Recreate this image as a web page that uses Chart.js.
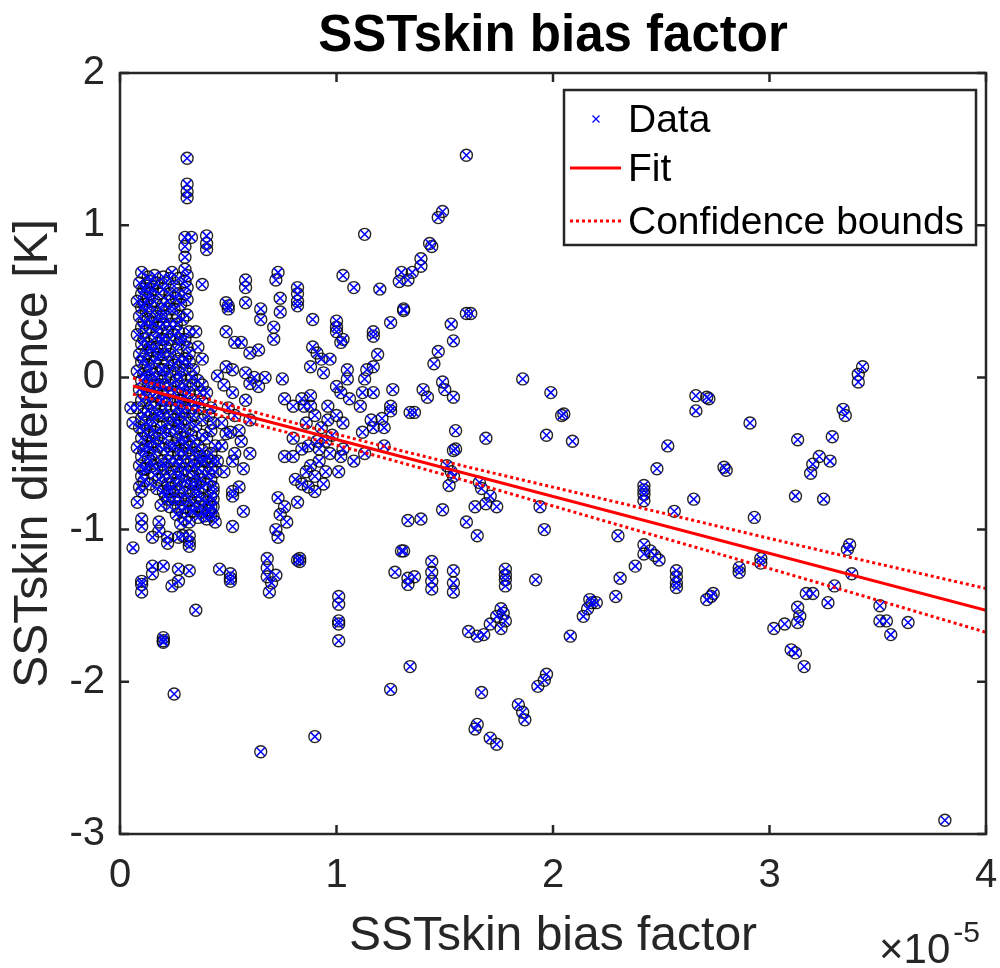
<!DOCTYPE html>
<html>
<head>
<meta charset="utf-8">
<title>SSTskin bias factor</title>
<script src="https://cdn.jsdelivr.net/npm/chart.js@4.4.1/dist/chart.umd.min.js"></script>
<style>
  html, body { margin: 0; padding: 0; background: #fff; }
  #wrap { width: 1000px; height: 968px; }
</style>
</head>
<body>
<div id="wrap"><canvas id="sstChart" width="1000" height="968"></canvas></div>
<script>
// x values are in units of 1e-5 (axis shows x10^-5)
const xTicks = [0, 1, 2, 3, 4];
const yTicks = [-3, -2, -1, 0, 1, 2];
const legendLabels = ['Data', 'Fit', 'Confidence bounds'];

// [bias factor (x1e-5), SSTskin difference K]
const observations = [
  // tall outliers near x=0.3
  [0.31,1.44],[0.31,1.27],[0.31,1.22],[0.31,1.18],[0.30,0.92],[0.33,0.92],[0.30,0.86],[0.30,0.79],
  [0.40,0.93],[0.40,0.88],[0.40,0.84],[0.38,0.61],
  [0.30,0.71],[0.31,0.67],[0.30,0.63],[0.31,0.59],[0.30,0.55],[0.31,0.51],[0.31,0.41],[0.32,0.30],
  [0.30,0.25],[0.31,0.20],[0.32,0.16],[0.30,0.12],
  [0.10,0.69],[0.16,0.67],[0.20,0.66],[0.24,0.69],[0.27,0.65],[0.13,0.66],[0.15,0.43],[0.19,0.40],
  [0.35,0.30],[0.36,0.20],[0.38,0.12],[0.34,0.05],
  // dense block, x 0.08 - 0.45
  [0.09,0.62],[0.10,0.55],[0.08,0.50],[0.10,0.46],[0.09,0.40],[0.10,0.33],[0.08,0.28],[0.10,0.22],
  [0.09,0.15],[0.10,0.10],[0.08,0.04],[0.10,-0.02],[0.09,-0.08],[0.10,-0.15],[0.08,-0.20],[0.10,-0.27],
  [0.09,-0.33],[0.10,-0.40],[0.08,-0.46],[0.10,-0.52],[0.09,-0.58],[0.10,-0.65],[0.09,-0.72],
  [0.11,0.58],[0.11,0.48],[0.11,0.36],[0.11,0.25],[0.11,0.12],[0.11,0.02],[0.11,-0.10],[0.11,-0.24],
  [0.11,-0.35],[0.11,-0.48],[0.11,-0.60],[0.11,-0.68],
  [0.12,0.60],[0.13,0.52],[0.12,0.44],[0.13,0.38],[0.12,0.30],[0.13,0.22],[0.12,0.16],[0.13,0.08],
  [0.12,0.00],[0.13,-0.06],[0.12,-0.13],[0.13,-0.22],[0.12,-0.30],[0.13,-0.38],[0.12,-0.45],[0.13,-0.53],[0.12,-0.60],
  [0.14,0.63],[0.14,0.55],[0.14,0.47],[0.14,0.33],[0.14,0.20],[0.14,0.05],[0.14,-0.02],[0.14,-0.17],
  [0.14,-0.32],[0.14,-0.46],[0.14,-0.55],[0.14,-0.70],
  [0.15,0.58],[0.16,0.50],[0.15,0.36],[0.16,0.26],[0.15,0.18],[0.16,0.10],[0.15,0.02],[0.16,-0.05],
  [0.15,-0.12],[0.16,-0.20],[0.15,-0.28],[0.16,-0.36],[0.15,-0.42],[0.16,-0.50],[0.15,-0.58],[0.16,-0.64],
  [0.17,0.62],[0.17,0.40],[0.17,0.30],[0.17,0.20],[0.17,0.13],[0.17,0.00],[0.17,-0.10],[0.17,-0.24],
  [0.17,-0.40],[0.17,-0.60],[0.17,-0.73],
  [0.18,0.55],[0.19,0.45],[0.18,0.33],[0.19,0.25],[0.18,0.15],[0.19,0.05],[0.18,-0.05],[0.19,-0.15],
  [0.18,-0.25],[0.19,-0.33],[0.18,-0.45],[0.19,-0.55],[0.18,-0.67],
  [0.20,0.58],[0.20,0.48],[0.20,0.35],[0.20,0.25],[0.20,0.15],[0.20,0.05],[0.20,-0.05],[0.20,-0.15],
  [0.20,-0.25],[0.20,-0.36],[0.20,-0.47],[0.20,-0.57],[0.20,-0.65],[0.20,-0.75],
  [0.21,0.62],[0.22,0.50],[0.21,0.40],[0.22,0.30],[0.21,0.20],[0.22,0.10],[0.21,0.00],[0.22,-0.10],
  [0.21,-0.20],[0.22,-0.30],[0.21,-0.40],[0.22,-0.50],[0.21,-0.60],[0.22,-0.70],[0.21,-0.78],
  [0.23,0.65],[0.23,0.55],[0.23,0.45],[0.23,0.35],[0.23,0.25],[0.23,0.15],[0.23,0.04],[0.23,-0.05],
  [0.23,-0.15],[0.23,-0.25],[0.23,-0.35],[0.23,-0.45],[0.23,-0.55],[0.23,-0.65],[0.23,-0.75],[0.23,-0.85],
  [0.25,0.60],[0.26,0.52],[0.25,0.45],[0.26,0.35],[0.25,0.28],[0.26,0.18],[0.25,0.08],[0.26,-0.02],
  [0.25,-0.10],[0.26,-0.20],[0.25,-0.28],[0.26,-0.36],[0.25,-0.45],[0.26,-0.55],[0.25,-0.62],[0.26,-0.70],
  [0.25,-0.80],[0.26,-0.90],
  [0.27,0.55],[0.27,0.40],[0.27,0.30],[0.27,0.22],[0.27,0.12],[0.27,0.03],[0.27,-0.06],[0.27,-0.15],
  [0.27,-0.24],[0.27,-0.32],[0.27,-0.41],[0.27,-0.50],[0.27,-0.58],[0.27,-0.66],[0.27,-0.75],[0.27,-0.85],
  [0.28,0.48],[0.29,0.38],[0.28,0.25],[0.29,0.10],[0.28,0.00],[0.29,-0.08],[0.28,-0.15],[0.29,-0.22],
  [0.28,-0.30],[0.29,-0.40],[0.28,-0.48],[0.29,-0.55],[0.28,-0.63],[0.29,-0.72],[0.28,-0.80],[0.29,-0.88],
  [0.28,-0.96],[0.29,-1.04],
  [0.30,0.05],[0.30,-0.05],[0.30,-0.12],[0.30,-0.20],[0.30,-0.27],[0.30,-0.35],[0.30,-0.43],[0.30,-0.50],
  [0.30,-0.60],[0.30,-0.68],[0.30,-0.76],[0.30,-0.85],[0.30,-0.93],
  [0.32,0.10],[0.33,0.00],[0.32,-0.10],[0.33,-0.20],[0.32,-0.30],[0.33,-0.38],[0.32,-0.46],[0.33,-0.55],
  [0.32,-0.62],[0.33,-0.70],[0.32,-0.80],[0.33,-0.88],[0.32,-0.95],
  [0.34,-0.05],[0.34,-0.15],[0.34,-0.25],[0.34,-0.42],[0.34,-0.50],[0.34,-0.58],[0.34,-0.65],[0.34,-0.75],
  [0.36,-0.02],[0.37,-0.10],[0.36,-0.20],[0.35,-0.32],[0.36,-0.45],[0.37,-0.52],[0.36,-0.60],[0.35,-0.70],
  [0.36,-0.78],[0.37,-0.85],[0.36,-0.92],
  [0.38,-0.05],[0.38,-0.16],[0.38,-0.28],[0.38,-0.38],[0.38,-0.48],[0.38,-0.62],[0.38,-0.72],[0.38,-0.80],[0.38,-0.88],
  [0.40,-0.10],[0.41,-0.25],[0.40,-0.40],[0.39,-0.55],[0.41,-0.63],[0.40,-0.70],[0.41,-0.87],[0.40,-0.93],
  [0.42,-0.20],[0.42,-0.35],[0.42,-0.50],[0.42,-0.67],[0.42,-0.78],[0.42,-0.85],[0.42,-0.90],
  [0.43,-0.30],[0.44,-0.45],[0.43,-0.55],[0.44,-0.62],[0.43,-0.72],[0.44,-0.95],
  [0.05,-0.20],[0.06,-0.30],
  // below dense block
  [0.10,-0.75],[0.08,-0.82],[0.10,-0.93],[0.10,-0.98],[0.06,-1.12],[0.15,-1.05],[0.18,-0.95],[0.18,-1.01],
  [0.22,-1.05],[0.22,-1.09],[0.27,-1.05],[0.32,-1.04],[0.32,-1.08],[0.32,-1.11],[0.15,-1.24],[0.20,-1.24],
  [0.15,-1.29],[0.10,-1.34],[0.10,-1.36],[0.10,-1.41],[0.24,-1.37],[0.27,-1.34],[0.27,-1.26],[0.32,-1.27],
  [0.20,-1.71],[0.20,-1.73],[0.20,-1.74],[0.35,-1.53],[0.25,-2.08],[0.46,-1.26],[0.51,-1.29],[0.51,-1.32],
  [0.51,-1.34],[0.52,-0.98],[0.57,-0.88],[0.52,-0.75],[0.52,-0.78],[0.43,-0.75],[0.43,-0.80],[0.43,-0.85],
  [0.43,-0.91],[0.40,-0.82],[0.41,-0.88],[0.39,-0.91],[0.34,-0.84],[0.34,-0.88],[0.40,-0.52],[0.42,-0.60],
  [0.45,-0.55],[0.49,-0.37],[0.51,-0.36],[0.53,-0.50],[0.57,-0.60],[0.37,-0.55],[0.37,-0.67],[0.36,-0.75],
  [0.23,-0.73],[0.22,-0.80],[0.19,-0.84],
  [0.47,-0.30],[0.50,-0.20],[0.53,-0.25],[0.55,-0.35],[0.58,-0.15],[0.60,-0.28],[0.48,-0.05],[0.52,-0.10],
  [0.52,-0.55],[0.48,-0.62],[0.55,-0.72],[0.60,-0.50],[0.47,-0.45],[0.56,-0.42],
  // x 0.65 - 1.35 lower part
  [0.68,-1.19],[0.68,-1.25],[0.68,-1.31],[0.69,-1.41],[0.72,-1.00],[0.73,-0.79],[0.74,-0.90],[0.76,-0.85],
  [0.82,-0.82],[0.83,-1.19],[0.83,-1.21],[0.76,-0.52],[0.80,-0.52],[0.84,-0.47],[0.81,-0.67],[0.84,-0.70],
  [0.87,-0.72],[0.90,-0.75],[0.86,-0.62],[0.80,-0.40],[0.91,-0.42],
  [0.86,-0.30],[0.90,-0.25],[0.93,-0.33],[0.95,-0.42],[0.97,-0.50],[0.92,-0.55],[0.88,-0.58],[0.95,-0.62],
  [0.98,-0.38],[0.90,-0.65],[0.94,-0.70],[0.87,-0.45],[0.92,-0.47],[0.96,-0.28],
  [1.01,-1.44],[1.01,-1.49],[1.01,-1.60],[1.01,-1.62],[1.01,-1.73],[1.01,-0.62],[1.02,-0.52],[1.25,-2.05],
  [1.33,-0.94],[1.30,-1.14],[1.27,-1.28],[1.33,-1.32],[1.33,-1.36],[1.34,-1.90],
  [1.12,-0.36],[1.17,-0.33],[1.22,-0.33],[1.22,-0.45],[1.13,-0.50],[1.08,-0.55],[1.03,-0.47],
  [0.72,-1.30],[0.70,-1.35],[0.73,-1.05],[0.77,-0.95],[0.82,-1.20],[0.65,-2.46],[0.90,-2.36],
  // x 0.45 - 1.35 upper part
  [0.49,0.49],[0.50,0.47],[0.50,0.45],[0.49,0.30],[0.58,0.64],[0.58,0.59],[0.58,0.49],[0.65,0.45],
  [0.65,0.38],[0.72,0.64],[0.73,0.69],[0.74,0.52],[0.74,0.43],[0.71,0.33],[0.71,0.25],[0.82,0.59],
  [0.82,0.55],[0.82,0.50],[0.82,0.47],[0.89,0.38],[0.53,0.23],[0.56,0.23],[0.60,0.16],[0.64,0.18],
  [0.49,0.07],[0.52,0.05],[0.58,0.03],[0.62,0.00],[0.60,-0.04],[0.64,-0.06],[0.45,0.01],[0.67,0.00],
  [0.75,-0.01],[0.76,-0.14],[0.80,-0.19],[0.85,-0.19],[0.88,-0.19],[0.84,-0.14],[0.88,-0.12],[0.88,0.07],
  [0.91,0.16],[0.89,0.20],[0.93,0.12],[0.94,0.03],[0.97,0.12],[1.00,0.37],[1.00,0.33],[1.00,0.30],
  [1.03,0.25],[1.02,0.23],[1.05,0.05],[1.05,-0.01],[1.00,-0.06],[1.02,-0.10],[1.06,-0.14],[0.96,-0.19],
  [1.00,-0.25],[1.03,-0.30],
  [1.13,0.94],[1.03,0.67],[1.08,0.59],[1.17,0.30],[1.17,0.27],[1.19,0.15],[1.14,0.05],[1.17,0.07],
  [1.13,-0.01],[1.25,0.36],[1.31,0.45],[1.30,0.69],[1.29,0.63],[1.26,-0.08],[1.12,-0.10],[1.17,-0.10],
  [1.11,-0.19],[1.25,-0.19],[1.25,-0.22],[1.16,-0.28],[1.21,-0.27],[1.34,-0.23],
  [1.60,1.46],[1.49,1.09],[1.47,1.05],[1.43,0.88],[1.44,0.86],[1.39,0.78],[1.39,0.73],[1.35,0.69],
  [1.33,0.64],[1.20,0.58],
  // x 1.3 - 2.7
  [1.31,0.44],[1.62,0.42],[1.60,0.42],[1.53,0.35],[1.54,0.24],[1.47,0.17],[1.45,0.09],[1.49,-0.03],
  [1.50,-0.08],[1.54,-0.13],[1.40,-0.08],[1.42,-0.13],[1.36,-0.23],[1.86,-0.01],[1.99,-0.10],[2.05,-0.24],
  [2.04,-0.25],[1.97,-0.38],[2.09,-0.42],[2.66,-0.12],[2.66,-0.22],[2.53,-0.45],[2.48,-0.60],[2.65,-0.80],
  [2.56,-0.88],[2.42,-0.71],[2.42,-0.74],[2.42,-0.77],[2.42,-0.81],[2.30,-1.04],[2.42,-1.10],[2.45,-1.14],
  [2.47,-1.17],[2.49,-1.20],[2.42,-1.16],[2.38,-1.24],[2.31,-1.32],[2.29,-1.44],[2.17,-1.46],
  [1.55,-0.35],[1.55,-0.47],[1.54,-0.48],[1.69,-0.40],[1.51,-0.58],[1.53,-0.62],[1.54,-0.65],[1.52,-0.71],
  [1.66,-0.69],[1.67,-0.73],[1.71,-0.78],[1.69,-0.83],[1.64,-0.85],[1.74,-0.85],[1.65,-1.04],[1.60,-0.95],
  [1.49,-0.87],[1.39,-0.93],[1.31,-1.14],[1.36,-1.31],[1.44,-1.21],[1.44,-1.28],[1.44,-1.34],[1.44,-1.39],
  [1.54,-1.27],[1.54,-1.35],[1.54,-1.41],[1.78,-1.26],[1.78,-1.30],[1.78,-1.33],[1.78,-1.37],[1.92,-1.33],
  [2.57,-1.27],[2.57,-1.31],[2.57,-1.35],[2.57,-1.38],[1.96,-1.00],[1.94,-0.85],
  [1.61,-1.67],[1.65,-1.70],[1.68,-1.69],[1.71,-1.62],[1.74,-1.57],[1.76,-1.52],[1.77,-1.55],[1.78,-1.60],
  [1.76,-1.65],[1.65,-2.28],[1.64,-2.31],[1.67,-2.07],[1.71,-2.37],[1.74,-2.41],[1.84,-2.15],[1.86,-2.20],
  [1.87,-2.25],[1.93,-2.03],[1.96,-1.99],[1.97,-1.95],[2.08,-1.70],[2.14,-1.57],[2.16,-1.52],[2.18,-1.48],
  [2.20,-1.48],
  // x 2.7 - 3.8
  [3.43,0.07],[3.41,0.02],[3.41,-0.03],[2.71,-0.13],[2.72,-0.14],[2.91,-0.30],[3.34,-0.21],[3.35,-0.25],
  [3.29,-0.39],[3.13,-0.41],[2.79,-0.59],[2.80,-0.61],[3.23,-0.52],[3.20,-0.57],[3.28,-0.55],[3.19,-0.63],
  [3.12,-0.78],[3.25,-0.80],[2.93,-0.92],[3.37,-1.10],[3.36,-1.13],[3.38,-1.29],[3.30,-1.37],[2.96,-1.19],
  [2.96,-1.22],[2.86,-1.25],[2.86,-1.28],[2.74,-1.42],[2.71,-1.46],[2.73,-1.44],[3.17,-1.42],[3.20,-1.42],
  [3.27,-1.48],[3.13,-1.51],[3.14,-1.57],[3.13,-1.61],[3.02,-1.65],[3.07,-1.62],[3.10,-1.79],[3.12,-1.81],
  [3.16,-1.90],[3.51,-1.50],[3.51,-1.60],[3.54,-1.60],[3.56,-1.69],[3.64,-1.61],[3.81,-2.91]
];

// linear fit and its confidence bounds
const fitX = [0.06, 4.0];
const fitY = [-0.057, -1.531];
const boundX = [0.06, 0.5, 1.0, 1.5, 2.0, 2.5, 3.0, 3.5, 4.0];
const upperBound = [-0.004, -0.180, -0.373, -0.552, -0.721, -0.889, -1.058, -1.224, -1.387];
const lowerBound = [-0.110, -0.264, -0.445, -0.640, -0.845, -1.051, -1.256, -1.464, -1.675];

const FONT = "'Liberation Sans', Arial, Helvetica, sans-serif";
const AXIS_COLOR = '#262626';
Chart.defaults.font.family = FONT;

const toPoints = (xs, ys) => xs.map((x, i) => ({ x, y: ys[i] }));
const obsPoints = observations.map(([x, y]) => ({ x, y }));

// MATLAB-like box, inside ticks, legend, title and exponent label
const matlabFrame = {
  id: 'matlabFrame',
  afterDatasetsDraw(chart) {
    const { ctx, chartArea: a, scales } = chart;
    const xs = scales.x, ys = scales.y;
    ctx.save();

    ctx.strokeStyle = AXIS_COLOR;
    ctx.lineWidth = 2.5;
    ctx.strokeRect(a.left, a.top, a.right - a.left, a.bottom - a.top);
    const tl = 9;
    ctx.beginPath();
    xTicks.forEach(v => {
      const px = xs.getPixelForValue(v);
      ctx.moveTo(px, a.bottom); ctx.lineTo(px, a.bottom - tl);
      ctx.moveTo(px, a.top); ctx.lineTo(px, a.top + tl);
    });
    yTicks.forEach(v => {
      const py = ys.getPixelForValue(v);
      ctx.moveTo(a.left, py); ctx.lineTo(a.left + tl, py);
      ctx.moveTo(a.right, py); ctx.lineTo(a.right - tl, py);
    });
    ctx.stroke();

    // legend box
    const lw = 412, lh = 155;
    const lx = a.right - 10 - lw, ly = a.top + 17;
    ctx.fillStyle = '#fff';
    ctx.fillRect(lx, ly, lw, lh);
    ctx.strokeRect(lx, ly, lw, lh);

    const rowY = [ly + 29, ly + 78, ly + 131];
    // data marker
    ctx.strokeStyle = '#0000ff';
    ctx.lineWidth = 1.3;
    const mx = lx + 32, my = rowY[0];
    ctx.beginPath();
    ctx.moveTo(mx - 3.5, my - 3.5); ctx.lineTo(mx + 3.5, my + 3.5);
    ctx.moveTo(mx + 3.5, my - 3.5); ctx.lineTo(mx - 3.5, my + 3.5);
    ctx.stroke();
    // fit line
    ctx.strokeStyle = '#ff0000';
    ctx.lineWidth = 3;
    ctx.beginPath();
    ctx.moveTo(lx + 6, rowY[1]); ctx.lineTo(lx + 57, rowY[1]);
    ctx.stroke();
    // bounds line
    ctx.setLineDash([3, 3]);
    ctx.beginPath();
    ctx.moveTo(lx + 6, rowY[2]); ctx.lineTo(lx + 57, rowY[2]);
    ctx.stroke();
    ctx.setLineDash([]);

    ctx.fillStyle = '#000';
    ctx.font = `39px ${FONT}`;
    ctx.textAlign = 'left';
    ctx.textBaseline = 'middle';
    legendLabels.forEach((t, i) => ctx.fillText(t, lx + 64, rowY[i] + 2));

    // title
    ctx.font = `bold 51px ${FONT}`;
    ctx.textAlign = 'center';
    ctx.textBaseline = 'alphabetic';
    ctx.fillText('SSTskin bias factor', (a.left + a.right) / 2, 51);

    // x10^-5
    ctx.fillStyle = AXIS_COLOR;
    ctx.textAlign = 'left';
    ctx.font = `42px ${FONT}`;
    const base = '\u00d710';
    const bx = 879;
    ctx.fillText(base, bx, 963);
    const bw = ctx.measureText(base).width;
    ctx.font = `30px ${FONT}`;
    ctx.fillText('-5', bx + bw + 3, 942);

    ctx.restore();
  }
};

new Chart(document.getElementById('sstChart'), {
  type: 'scatter',
  data: {
    datasets: [
      {
        label: 'Fit',
        data: toPoints(fitX, fitY),
        showLine: true,
        borderColor: '#ff0000',
        borderWidth: 3,
        pointRadius: 0,
        order: 0
      },
      {
        label: 'Upper bound',
        data: toPoints(boundX, upperBound),
        showLine: true,
        borderColor: '#ff0000',
        borderWidth: 3,
        borderDash: [3, 3],
        cubicInterpolationMode: 'monotone',
        pointRadius: 0,
        order: 0
      },
      {
        label: 'Lower bound',
        data: toPoints(boundX, lowerBound),
        showLine: true,
        borderColor: '#ff0000',
        borderWidth: 3,
        borderDash: [3, 3],
        cubicInterpolationMode: 'monotone',
        pointRadius: 0,
        order: 0
      },
      {
        label: 'Data',
        data: obsPoints,
        pointStyle: 'crossRot',
        pointRadius: 6,
        pointBorderColor: '#0000ff',
        pointBackgroundColor: 'transparent',
        pointBorderWidth: 1.5,
        order: 1
      },
      {
        label: 'Data rings',
        data: obsPoints,
        pointStyle: 'circle',
        pointRadius: 6,
        pointBorderColor: 'rgba(0,0,0,0.85)',
        pointBackgroundColor: 'transparent',
        pointBorderWidth: 1.4,
        order: 2
      }
    ]
  },
  options: {
    responsive: false,
    animation: false,
    events: [],
    layout: { padding: { top: 73, right: 14, left: 0, bottom: 0 } },
    plugins: {
      legend: { display: false },
      tooltip: { enabled: false },
      title: { display: false }
    },
    scales: {
      x: {
        type: 'linear',
        min: 0,
        max: 4,
        grid: { display: false, drawTicks: false },
        border: { display: false },
        ticks: { stepSize: 1, color: AXIS_COLOR, font: { size: 40 }, padding: 18 },
        title: {
          display: true,
          text: 'SSTskin bias factor',
          color: AXIS_COLOR,
          font: { size: 48 },
          padding: { top: 0, bottom: 2 }
        },
        afterFit: s => { s.height = 134; s.paddingLeft = 0; s.paddingRight = 0; }
      },
      y: {
        type: 'linear',
        min: -3,
        max: 2,
        grid: { display: false, drawTicks: false },
        border: { display: false },
        ticks: { stepSize: 1, color: AXIS_COLOR, font: { size: 40 }, padding: 15 },
        title: {
          display: true,
          text: 'SSTskin difference [K]',
          color: AXIS_COLOR,
          font: { size: 48 },
          padding: { top: 5, bottom: 0 }
        },
        afterFit: s => { s.width = 120; s.paddingTop = 0; s.paddingBottom = 0; }
      }
    }
  },
  plugins: [matlabFrame]
});
</script>
</body>
</html>
